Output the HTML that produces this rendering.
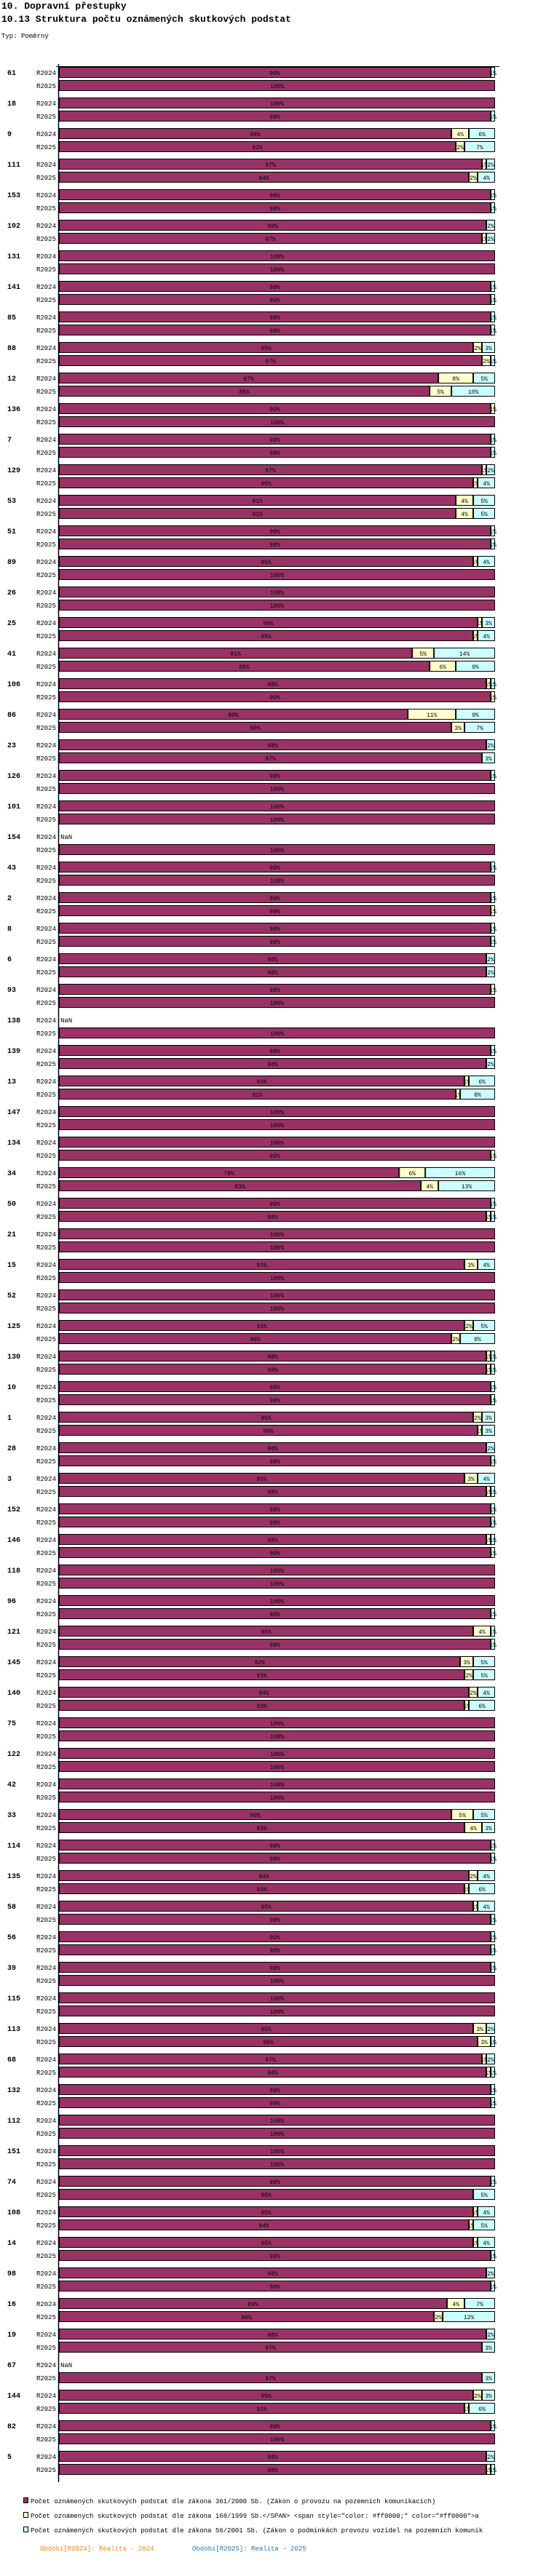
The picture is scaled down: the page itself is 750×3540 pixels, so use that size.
<!DOCTYPE html>
<html><head><meta charset="utf-8">
<style>
body{margin:0;background:#fff;width:750px;height:3540px;overflow:hidden;font-family:"Liberation Mono",monospace;}
svg{position:absolute;left:0;top:0}
</style></head>
<body>
<svg id="chart" width="750" height="3540" xmlns="http://www.w3.org/2000/svg">
<text x="2" y="12" font-size="13" font-weight="bold" font-family="Liberation Mono, monospace" fill="#000">10. Dopravní přestupky</text>
<text x="2" y="30" font-size="13" font-weight="bold" font-family="Liberation Mono, monospace" fill="#000">10.13 Struktura počtu oznámených skutkových podstat</text>
<text x="2" y="52" font-size="9" font-family="Liberation Mono, monospace" fill="#000">Typ: Poměrný</text>
<g id="bars"></g>
<line x1="80.5" y1="88" x2="80.5" y2="3411" stroke="#000" stroke-width="1.5"/>
<line x1="77" y1="91.5" x2="686" y2="91.5" stroke="#000" stroke-width="1"/>
<g>
<rect x="32.5" y="3432.5" width="6" height="7" fill="#993366" stroke="#000"/>
<text x="42" y="3440" font-size="9" font-family="Liberation Mono, monospace">Počet oznámených skutkových podstat dle zákona 361/2000 Sb. (Zákon o provozu na pozemních komunikacích)</text>
<rect x="32.5" y="3452.5" width="6" height="7" fill="#ffffcc" stroke="#000"/>
<text x="42" y="3460" font-size="9" font-family="Liberation Mono, monospace">Počet oznámených skutkových podstat dle zákona 168/1999 Sb.&lt;/SPAN&gt; &lt;span style="color: #ff0000;" color="#ff0000"&gt;a</text>
<rect x="32.5" y="3472.5" width="6" height="7" fill="#ccffff" stroke="#000"/>
<text x="42" y="3480" font-size="9" font-family="Liberation Mono, monospace">Počet oznámených skutkových podstat dle zákona 56/2001 Sb. (Zákon o podmínkách provozu vozidel na pozemních komunik</text>
<text x="55" y="3505" font-size="9" font-family="Liberation Mono, monospace" fill="#ff8000">Období[R2024]: Realita - 2024</text>
<text x="264" y="3505" font-size="9" font-family="Liberation Mono, monospace" fill="#1f77b4">Období[R2025]: Realita - 2025</text>
</g>
</svg>
<script>
const groups=[61,18,9,111,153,102,131,141,85,88,12,136,7,129,53,51,89,26,25,41,106,86,23,126,101,154,43,2,8,6,93,138,139,13,147,134,34,50,21,15,52,125,130,10,1,28,3,152,146,118,96,121,145,140,75,122,42,33,114,135,58,56,39,115,113,68,132,112,151,74,108,14,98,16,19,67,144,82,5];
const periods=["R2024","R2025"];
// yellow (168/1999) and cyan (56/2001) shares in %, per group; null = NaN
const y2024=[0,0,4,1,0,0,0,0,0,2,8,1,0,1,4,0,1,0,1,5,1,11,0,0,0,null,0,0,0,0,1,null,0,1,0,0,6,0,0,3,0,2,1,0,2,0,3,0,1,0,0,4,3,2,0,0,0,5,0,2,1,0,0,0,3,1,0,0,0,0,1,1,0,4,0,null,2,0,0];
const c2024=[1,0,6,2,1,2,0,1,1,3,5,0,1,2,5,1,4,0,3,14,1,9,2,1,0,null,1,1,1,2,0,null,1,6,0,0,16,1,0,4,0,5,1,1,3,2,4,1,1,0,0,1,5,4,0,0,0,5,1,4,4,1,1,0,2,2,1,0,0,1,4,4,2,7,2,null,3,1,2];
const y2025=[0,0,2,2,0,1,0,0,0,2,5,0,0,1,4,0,0,0,1,6,1,3,0,0,0,0,0,1,0,0,0,0,0,1,0,1,4,1,0,0,0,2,1,0,1,0,1,0,0,0,0,0,2,1,0,0,0,4,0,1,0,0,0,0,3,1,0,0,0,0,1,0,0,2,0,0,1,0,1];
const c2025=[0,1,7,4,1,2,0,1,1,1,10,0,1,4,5,1,0,0,4,9,0,7,3,0,0,0,0,0,1,2,0,0,2,8,0,0,13,1,0,0,0,8,1,1,3,1,1,1,1,0,1,1,5,6,0,0,0,3,1,6,1,1,0,0,1,1,1,0,0,5,5,1,1,12,3,3,6,0,1];

const X0=81, W=599, TOP=92, PITCH=42, BH=15;
const xs=p=>p/100*W;
const NS="http://www.w3.org/2000/svg";
const g=document.getElementById("bars");
function mk(tag,attrs){const e=document.createElementNS(NS,tag);for(const k in attrs)e.setAttribute(k,attrs[k]);return e;}
function seg(x,y,w,fill,val,name){
  const r=mk("rect",{x:x+0.5,y:y+0.5,width:Math.max(w-1,0.5),height:BH-1,fill:fill,stroke:"#000","stroke-width":1});
  
  
  g.appendChild(r);
  const t=mk("text",{x:x+w/2,y:y+11,"font-size":8,"text-anchor":"middle","font-family":"Liberation Mono, monospace",fill:"#000"});
  t.textContent=val+"%";
  
  
  g.appendChild(t);
}
groups.forEach((gid,i)=>{
  const gy=TOP+i*PITCH;
  const gl=mk("text",{x:10,y:gy+11,"font-size":10,"font-weight":"bold","font-family":"Liberation Mono, monospace"});
  gl.textContent=gid;
  
  
  g.appendChild(gl);
  [[y2024,c2024],[y2025,c2025]].forEach((arr,j)=>{
    const y=gy+j*18;
    const pl=mk("text",{x:77,y:y+11,"font-size":9,"text-anchor":"end","font-family":"Liberation Mono, monospace"});
    pl.textContent=periods[j];
    
    
    g.appendChild(pl);
    const yv=arr[0][i], cv=arr[1][i];
    if(yv===null){
      const n=mk("text",{x:83,y:y+11,"font-size":9,"font-family":"Liberation Mono, monospace"});
      n.textContent="NaN";
      
      
      g.appendChild(n);
      return;
    }
    const pv=100-yv-cv;
    let x=X0;
    seg(x,y,xs(pv),"#993366",pv,"bar-"+gid+"-"+periods[j]+"-361");x+=xs(pv);
    if(yv>0){seg(x,y,xs(yv),"#ffffcc",yv,"bar-"+gid+"-"+periods[j]+"-168");x+=xs(yv);}
    if(cv>0){seg(x,y,xs(cv),"#ccffff",cv,"bar-"+gid+"-"+periods[j]+"-56");}
  });
});
</script>
</body></html>
